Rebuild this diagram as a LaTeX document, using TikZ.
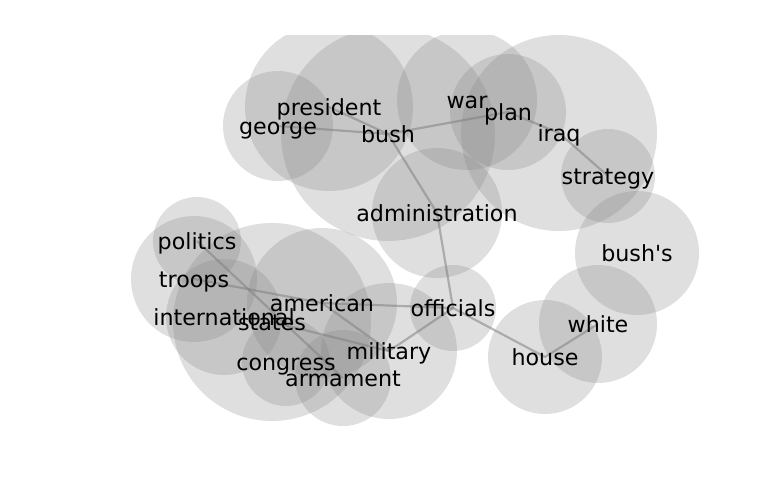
\documentclass[tikz,border=0pt]{standalone}
\usepackage{fontspec}
\setmainfont{DejaVu Sans}[Ligatures=TeXOff]
\pgfdeclarelayer{circles}
\pgfdeclarelayer{edges}
\pgfsetlayers{circles,edges,main}
\begin{document}
\begin{tikzpicture}[x=1pt,y=-1pt,
  word/.style={inner sep=0pt, text height=19pt, text depth=2.8pt,
    font=\fontsize{22.2}{26}\selectfont},
  blob/.style={fill=black!50, fill opacity=0.25},
  link/.style={draw=black!50, draw opacity=0.55, line width=2.2pt}]
\useasboundingbox (0,0) rectangle (768,500);
% words
\node[word] (politics) at (197,241) {politics};
\node[word] (troops) at (194,279) {troops};
\node[word] (international) at (224,317) {international};
\node[word] (states) at (272,322) {states};
\node[word] (american) at (322,303) {american};
\node[word] (congress) at (286,362) {congress};
\node[word] (armament) at (343,378) {armament};
\node[word] (military) at (389,351) {military};
\node[word] (officials) at (453,308) {officials};
\node[word] (house) at (545,357) {house};
\node[word] (white) at (598,324) {white};
\node[word] (bushs) at (637,253) {bush's};
\node[word] (administration) at (437,213) {administration};
\node[word] (strategy) at (608,176) {strategy};
\node[word] (iraq) at (559,133) {iraq};
\node[word] (plan) at (508,112) {plan};
\node[word] (war) at (467,100) {war};
\node[word] (bush) at (388,134) {bush};
\node[word] (president) at (329,107) {president};
\node[word] (george) at (278,126) {george};
% circles
\begin{pgfonlayer}{circles}
\begin{scope}
\clip (0,36) rectangle (768,500);
\foreach \n/\r in {politics/44, troops/63, international/58, states/99,
  american/75, congress/44, armament/48, military/68, officials/43,
  house/57, white/59, bushs/62, administration/65, strategy/47,
  iraq/98, plan/58, war/70, bush/107, president/84, george/55}
  \fill[blob] (\n.center) circle (\r pt);
\end{scope}
\end{pgfonlayer}
% edges
\begin{pgfonlayer}{edges}
\foreach \a/\b in {george/bush, president/bush, bush/plan, plan/iraq,
  iraq/strategy, bush/administration, administration/officials,
  officials/military, officials/house, house/white, american/officials,
  troops/american, american/military, states/military, politics/armament}
  \draw[link] (\a.center) -- (\b.center);
\end{pgfonlayer}
\end{tikzpicture}
\end{document}
